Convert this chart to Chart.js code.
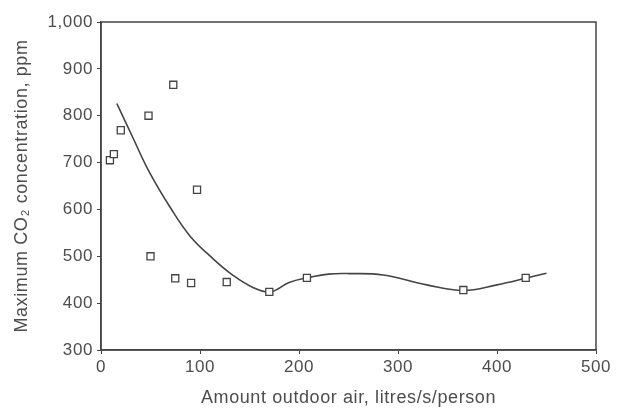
<!DOCTYPE html>
<html>
<head>
<meta charset="utf-8">
<script src="https://cdn.jsdelivr.net/npm/chart.js@4/dist/chart.umd.min.js"></script>
<style>
  html, body { margin: 0; padding: 0; background: #fff; }
  #wrap { width: 622px; height: 412px; }
</style>
</head>
<body>
<div id="wrap"><canvas id="co2Chart" width="622" height="412"></canvas></div>
<script>
// ===== Data =====
const airX = [9, 13, 20, 48, 73, 50, 75, 91, 97, 127, 170, 208, 366, 429];
const co2Y = [705, 718, 769, 800, 866, 500, 453, 443, 642, 445, 424, 454, 428, 454];

// fitted curve, sampled along the drawn line
const curveX = [16, 32, 49, 70, 90, 112, 133, 154, 171, 190, 208, 230, 251, 285, 329, 366, 400, 429, 450];
const curveY = [826, 754, 679, 604, 543, 497, 460, 433, 424, 444, 454, 462, 463, 460, 439, 427, 439, 453, 464];

const xTicks = [0, 100, 200, 300, 400, 500];
const yTicks = [300, 400, 500, 600, 700, 800, 900, 1000];

const INK = "#444";
const TEXT = "#4d4d4d";
const FONT = "'Liberation Sans', Arial, sans-serif";
const SPACING = "0.6px";

// ===== Helpers =====
const pairs = (xs, ys) => xs.map((x, i) => ({ x, y: ys[i] }));

// slightly wider letter spacing, like the scanned figure
const spacing = {
  id: "spacing",
  beforeLayout(chart) { chart.ctx.letterSpacing = SPACING; },
  beforeDraw(chart) { chart.ctx.letterSpacing = SPACING; },
};

// draws the full box round the plot area
const frameBox = {
  id: "frameBox",
  afterDatasetsDraw(chart) {
    const { ctx, chartArea: a } = chart;
    ctx.save();
    ctx.strokeStyle = INK;
    ctx.lineWidth = 1.5;
    ctx.strokeRect(a.left, a.top, a.right - a.left, a.bottom - a.top);
    ctx.restore();
  },
};

// ===== Chart =====
new Chart(document.getElementById("co2Chart").getContext("2d"), {
  type: "scatter",
  data: {
    datasets: [
      {
        label: "Measured",
        data: pairs(airX, co2Y),
        pointStyle: "rect",
        pointRadius: 5,
        pointBorderWidth: 1.3,
        pointBorderColor: INK,
        pointBackgroundColor: "#fff",
        order: 1,
      },
      {
        label: "Fit",
        data: pairs(curveX, curveY),
        showLine: true,
        borderColor: INK,
        borderWidth: 1.6,
        pointRadius: 0,
        tension: 0.4,
        order: 2,
      },
    ],
  },
  options: {
    responsive: false,
    animation: false,
    layout: { padding: { top: 22, right: 26, bottom: 0, left: 0 } },
    plugins: { legend: { display: false }, tooltip: { enabled: false } },
    scales: {
      x: {
        type: "linear",
        min: 0,
        max: 500,
        afterBuildTicks: (s) => { s.ticks = xTicks.map((v) => ({ value: v })); },
        afterFit: (s) => { s.height = 62; },
        grid: { drawOnChartArea: false, color: INK, tickLength: 4, lineWidth: 1 },
        border: { color: INK, width: 1.5 },
        ticks: { color: TEXT, font: { family: FONT, size: 17 }, padding: 3, maxRotation: 0 },
        title: {
          display: true,
          text: "Amount outdoor air, litres/s/person",
          color: TEXT,
          font: { family: FONT, size: 18 },
          padding: { top: 4, bottom: 3 },
        },
      },
      y: {
        type: "linear",
        min: 300,
        max: 1000,
        afterBuildTicks: (s) => { s.ticks = yTicks.map((v) => ({ value: v })); },
        afterFit: (s) => { s.width = 101; },
        grid: { drawOnChartArea: false, color: INK, tickLength: 4, lineWidth: 1 },
        border: { color: INK, width: 1.5 },
        ticks: {
          color: TEXT,
          font: { family: FONT, size: 17 },
          padding: 4,
          callback: (v) => v.toLocaleString("en-US"),
        },
        title: {
          display: true,
          text: "Maximum CO₂ concentration, ppm",
          color: TEXT,
          font: { family: FONT, size: 18 },
          padding: { top: 11, bottom: 4 },
        },
      },
    },
  },
  plugins: [spacing, frameBox],
});
</script>
</body>
</html>
